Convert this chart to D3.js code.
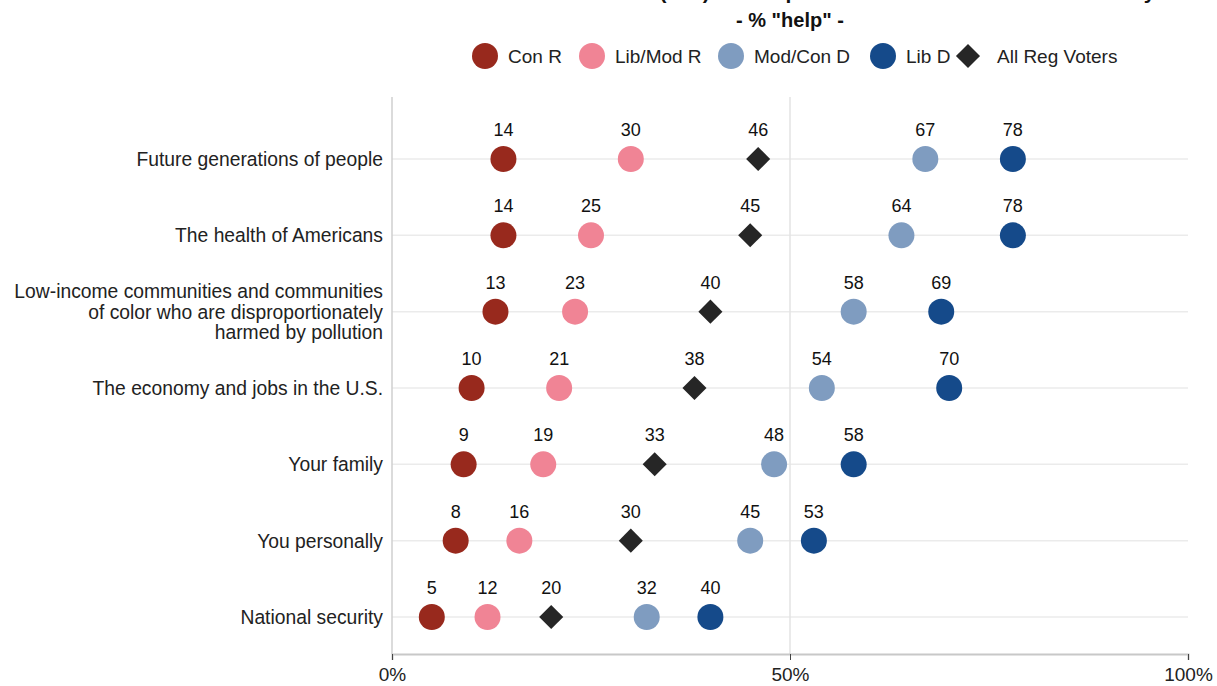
<!DOCTYPE html>
<html><head><meta charset="utf-8">
<script src="https://cdn.jsdelivr.net/npm/d3@7"></script>
<style>body{margin:0;background:#fff;}svg{display:block;font-family:"Liberation Sans",Arial,sans-serif;}</style>
</head><body>
<svg id="c" width="1217" height="686"></svg>
<script>
const categories = [
  ["Future generations of people"],
  ["The health of Americans"],
  ["Low-income communities and communities","of color who are disproportionately","harmed by pollution"],
  ["The economy and jobs in the U.S."],
  ["Your family"],
  ["You personally"],
  ["National security"]
];
const seriesNames = ["Con R","Lib/Mod R","Mod/Con D","Lib D","All Reg Voters"];
const seriesColors = ["#98291d","#f08495","#7f9cc0","#154a8a","#262626"];
const conR    = [14,14,13,10,9,8,5];
const libModR = [30,25,23,21,19,16,12];
const modConD = [67,64,58,54,48,45,32];
const libD    = [78,78,69,70,58,53,40];
const allReg  = [46,45,40,38,33,30,20];
const seriesValues = [conR, libModR, modConD, libD, allReg];
const xTicks = [0,50,100];
const titleText = "Inflation Reduction Act (IRA) will help or hurt the health and the economy";
const subtitleText = '- % "help" -';

const svg = d3.select("#c");
const x = d3.scaleLinear().domain([0,100]).range([392,1188]);
const y = d3.scalePoint().domain(d3.range(categories.length)).range([159,617]);

// title (cut off at top, as in the reference)
svg.append("text").attr("x",790).attr("y",-1).attr("text-anchor","middle")
  .attr("font-weight","bold").attr("font-size",21).attr("fill","#111").text(titleText);
svg.append("text").attr("x",790).attr("y",27).attr("text-anchor","middle")
  .attr("font-weight","bold").attr("font-size",20).attr("fill","#111").text(subtitleText);

// grid
const g = svg.append("g");
g.selectAll(".hg").data(d3.range(categories.length)).join("line")
  .attr("x1",392).attr("x2",1188).attr("y1",d=>y(d)).attr("y2",d=>y(d))
  .attr("stroke","#ebebeb").attr("stroke-width",1.5);
g.append("line").attr("x1",x(50)).attr("x2",x(50)).attr("y1",97).attr("y2",654)
  .attr("stroke","#e3e3e3").attr("stroke-width",1.5);
g.append("line").attr("x1",392).attr("x2",392).attr("y1",97).attr("y2",654)
  .attr("stroke","#cfcfcf").attr("stroke-width",1.5);

// x axis
const xa = svg.append("g").attr("transform","translate(0,654)")
  .call(d3.axisBottom(x).tickValues(xTicks).tickFormat(d=>d+"%").tickSize(6).tickPadding(8));
xa.select(".domain").attr("stroke","#c8c8c8").attr("stroke-width",2);
xa.selectAll(".tick line").attr("stroke","#444");
xa.selectAll(".tick text").attr("font-size",19).attr("fill","#222").attr("font-family","Liberation Sans, Arial, sans-serif");

// y labels
const yl = svg.append("g");
categories.forEach((lines,i)=>{
  const t = yl.append("text").attr("text-anchor","end").attr("font-size",19.3).attr("fill","#222");
  const lh = 20.5, y0 = y(i) - (lines.length-1)*lh/2 + 7;
  lines.forEach((ln,j)=>t.append("tspan").attr("x",383).attr("y",y0+j*lh).text(ln));
});

// points
const diamond = d3.symbol().type(d3.symbolSquare).size(290);
seriesValues.forEach((vals,s)=>{
  const gg = svg.append("g");
  vals.forEach((v,i)=>{
    if (s===4) {
      gg.append("path").attr("d",diamond()).attr("fill",seriesColors[s])
        .attr("transform",`translate(${x(v)},${y(i)}) rotate(45)`);
    } else {
      gg.append("circle").attr("cx",x(v)).attr("cy",y(i)).attr("r",13).attr("fill",seriesColors[s]);
    }
    gg.append("text").attr("x",x(v)).attr("y",y(i)-23).attr("text-anchor","middle")
      .attr("font-size",18).attr("fill","#111").text(v);
  });
});

// legend
const legX = [485,592,731,883,968];
const lg = svg.append("g");
seriesNames.forEach((n,s)=>{
  if (s===4) {
    lg.append("path").attr("d",diamond()).attr("fill",seriesColors[s])
      .attr("transform",`translate(${legX[s]},56) rotate(45)`);
  } else {
    lg.append("circle").attr("cx",legX[s]).attr("cy",56).attr("r",13).attr("fill",seriesColors[s]);
  }
  lg.append("text").attr("x",legX[s]+(s===4?29:23)).attr("y",63).attr("font-size",19).attr("fill","#222").text(n);
});
</script>
</body></html>
